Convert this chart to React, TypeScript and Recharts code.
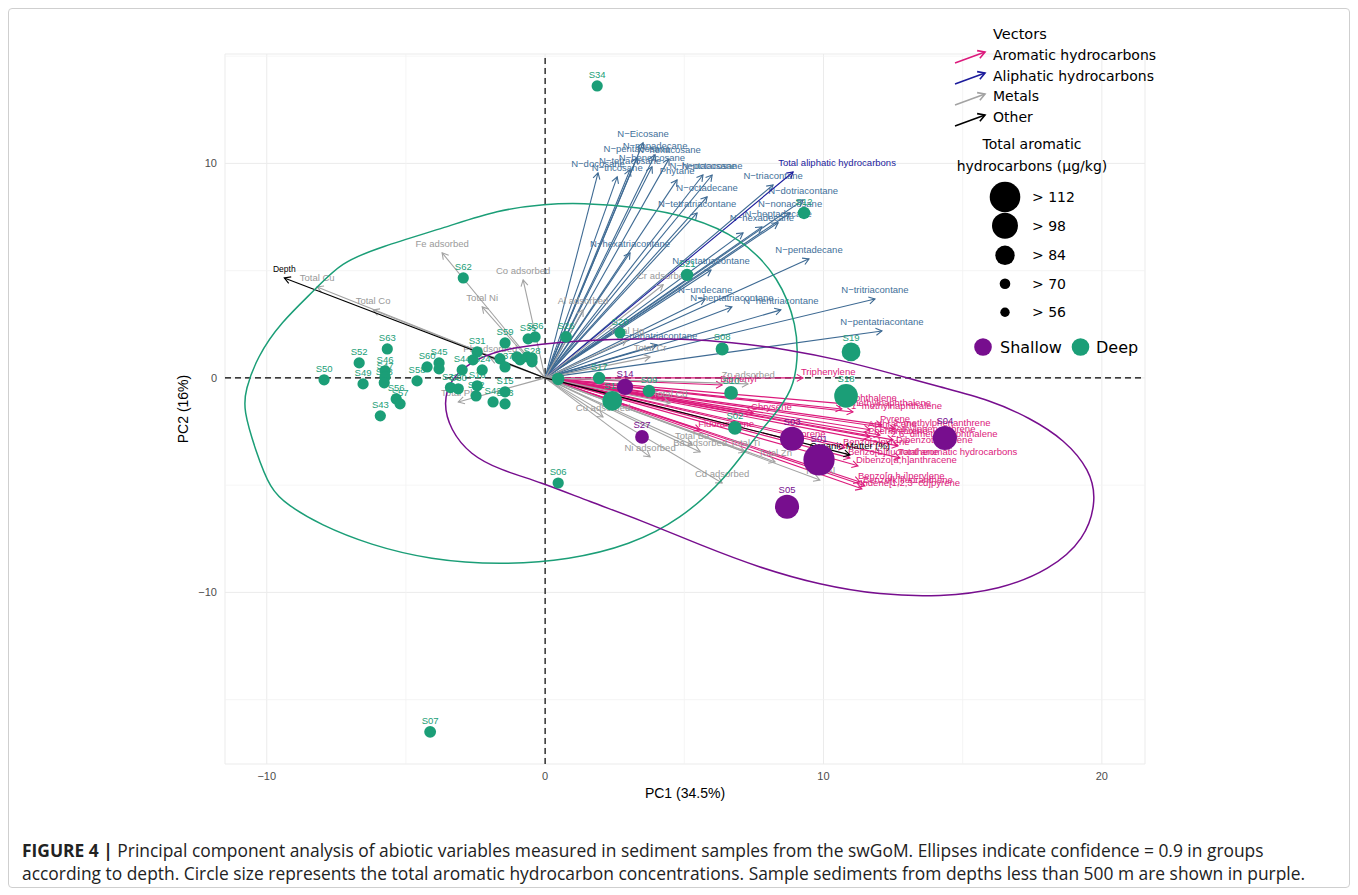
import React from "react";
import {
  ScatterChart,
  Scatter,
  XAxis,
  YAxis,
  CartesianGrid,
  ReferenceLine,
} from "recharts";

// ---- samples (PC scores) ----
const SAMPLE_NAMES = [
  "S34", "S12", "S21", "S20", "S26", "S08", "S19", "S18", "S10", "S09",
  "S17", "S11", "", "S02", "S06", "S07", "S62", "S63", "S52", "S46",
  "S47", "S48", "S49", "S50", "S56", "S57", "S43", "S58", "S60", "S45",
  "", "S44", "S32", "S30", "S31", "", "S59", "S35", "S36", "",
  "", "", "S28", "", "", "S37", "S24", "S16", "S22", "S42",
  "S15", "S13", "S14", "S27", "S05", "S03", "S01", "S04",
];
const SAMPLE_PC1 = [
  1.87, 9.3, 5.1, 2.69, 0.75, 6.36, 10.99, 10.81, 6.68, 3.73,
  1.94, 2.41, 0.47, 6.82, 0.47, -4.13, -2.94, -5.67, -6.68, -5.75,
  -5.75, -5.78, -6.54, -7.94, -5.35, -5.21, -5.92, -4.6, -4.24, -3.81,
  -3.81, -2.98, -3.4, -3.12, -2.44, -2.59, -1.44, -0.61, -0.36, -1.01,
  -0.9, -0.65, -0.47, -0.47, -1.62, -1.44, -2.26, -2.44, -2.48, -1.87,
  -1.44, -1.44, 2.87, 3.48, 8.69, 8.87, 9.84, 14.36,
];
const SAMPLE_PC2 = [
  13.61, 7.69, 4.8, 2.1, 1.91, 1.35, 1.21, -0.84, -0.7, -0.61,
  -0.01, -1.07, -0.05, -2.33, -4.9, -16.5, 4.66, 1.35, 0.7, 0.33,
  0.05, -0.23, -0.28, -0.09, -0.98, -1.21, -1.77, -0.14, 0.51, 0.7,
  0.42, 0.37, -0.45, -0.51, 1.21, 0.84, 1.63, 1.82, 1.91, 0.98,
  0.84, 0.98, 0.75, 0.93, 0.89, 0.51, 0.37, -0.37, -0.84, -1.12,
  -0.65, -1.21, -0.42, -2.75, -6.01, -2.84, -3.82, -2.8,
];
const SAMPLE_DEPTH = [
  "Deep", "Deep", "Deep", "Deep", "Deep", "Deep", "Deep", "Deep", "Deep", "Deep",
  "Deep", "Deep", "Deep", "Deep", "Deep", "Deep", "Deep", "Deep", "Deep", "Deep",
  "Deep", "Deep", "Deep", "Deep", "Deep", "Deep", "Deep", "Deep", "Deep", "Deep",
  "Deep", "Deep", "Deep", "Deep", "Deep", "Deep", "Deep", "Deep", "Deep", "Deep",
  "Deep", "Deep", "Deep", "Deep", "Deep", "Deep", "Deep", "Deep", "Deep", "Deep",
  "Deep", "Deep", "Shallow", "Shallow", "Shallow", "Shallow", "Shallow", "Shallow",
];
const SAMPLE_TAH = [
  71, 73, 73, 71, 72, 74, 83, 93, 75, 73,
  73, 85, 73, 75, 71, 72, 71, 71, 71, 71,
  71, 71, 71, 71, 71, 71, 71, 71, 71, 71,
  71, 71, 71, 71, 71, 71, 71, 71, 71, 71,
  71, 71, 71, 71, 71, 71, 71, 71, 71, 71,
  71, 71, 79, 75, 94, 94, 114, 94,
];

// ---- variable loadings (arrows) ----
const VECTOR_NAMES = [
  "Biphenyl", "Triphenylene", "Naphthalene", "2\u2212methylnaphthalene", "1\u2212methylnaphthalene",
  "Chrysene", "Pyrene", "2\u2212methylphenanthrene", "Anthracene", "1\u2212methylphenanthrene",
  "2,6\u2212dimethylnaphthalene", "Dibenzothiophene", "Total aromatic hydrocarbons", "Dibenzo[a,h]anthracene", "Benzo[g,h,i]perylene",
  "Benzo[k]fluoranthene", "Indene[1,2,3\u2212cd]pyrene", "Fluoranthene", "Benzo[b]fluoranthene", "Benzo[a]pyrene",
  "Phenanthrene", "Fluorene",
  "N\u2212docosane", "N\u2212tricosane", "N\u2212tetracosane", "N\u2212Eicosane", "N\u2212pentacosane",
  "N\u2212heneicosane", "N\u2212nonadecane", "N\u2212hexacosane", "Phytane", "N\u2212heptacosane",
  "N\u2212octacosane", "N\u2212triacontane", "N\u2212dotriacontane", "N\u2212octadecane", "N\u2212tetratriacontane",
  "N\u2212nonacosane", "N\u2212heptadecane", "N\u2212hexadecane", "", "N\u2212hexatriacontane",
  "N\u2212octatriacontane", "N\u2212pentadecane", "N\u2212undecane", "N\u2212heptatriacontane", "N\u2212hentriacontane",
  "N\u2212tritriacontane", "N\u2212pentatriacontane", "N\u2212nonatriacontane",
  "Total aliphatic hydrocarbons",
  "Total Cu", "Total Co", "Fe adsorbed", "Total Ni", "Co adsorbed",
  "Pb adsorbed", "Total Pb", "Al adsorbed", "Cr adsorbed", "Total Hg",
  "Total Cr", "Zn adsorbed", "Total Cd", "Cu adsorbed", "Ni adsorbed",
  "Total Ba", "Ba adsorbed", "Cd adsorbed", "Total Al", "Total Ti",
  "Total Zn",
  "Depth", "Organic Matter (%)",
];
const VECTOR_PC1 = [
  6.36, 9.26, 10.77, 10.66, 11.06, 7.47, 12.1, 12.57, 11.67, 12.03,
  12.5, 12.68, 12.75, 11.24, 11.31, 11.49, 11.38, 5.57, 10.95, 10.77,
  11.67, 8.8,
  1.9, 2.59, 3.05, 3.52, 3.3, 3.84, 3.95, 4.45, 4.74, 5.67,
  6.0, 8.19, 9.27, 5.82, 5.46, 8.8, 8.37, 7.79, 7.11, 3.05,
  5.96, 9.48, 5.75, 6.71, 8.47, 11.85, 12.1, 4.02,
  8.91,
  -8.19, -6.18, -3.7, -2.26, -0.79, -1.97, -3.12, 1.36, 4.24, 2.94,
  3.77, 7.29, 4.49, 2.08, 3.77, 5.28, 5.57, 6.36, 9.87, 7.18,
  8.26,
  -9.37, 10.95,
];
const VECTOR_PC2 = [
  -0.33, 0.0, -1.21, -1.45, -1.59, -1.63, -2.19, -2.38, -2.42, -2.66,
  -2.89, -3.17, -3.73, -4.1, -4.85, -5.03, -5.17, -2.42, -3.73, -3.26,
  -2.75, -2.89,
  9.56, 9.37, 9.7, 10.96, 10.26, 9.84, 10.4, 10.21, 9.23, 9.46,
  9.46, 9.0, 8.3, 8.44, 7.69, 7.69, 7.23, 7.04, 6.76, 5.83,
  5.03, 5.55, 3.68, 3.31, 3.17, 3.68, 2.19, 1.54,
  9.6,
  4.24, 3.17, 5.83, 3.31, 4.57, 0.93, -1.12, 3.17, 4.34, 1.77,
  0.98, -0.28, -1.17, -1.82, -3.68, -3.12, -3.45, -4.9, -4.76, -3.45,
  -3.92,
  4.66, -3.59,
];
const VECTOR_GROUP = [
  ...Array(22).fill("aromatic"),
  ...Array(28).fill("aliphatic"),
  "aliphaticTotal",
  ...Array(21).fill("metal"),
  "other", "other",
];

// ---- 0.9 confidence ellipses, traced ----
const DEEP_ELLIPSE_PC1 = [
  -10.84, -10.77, -10.34, -9.52, -8.19, -7.36, -5.92, -3.52, -1.72, 0.04,
  1.26, 3.41, 5.21, 7.0, 8.44, 9.05, 9.08, 8.9, 8.19, 7.54,
  6.54, 4.85, 3.05, 0.9, -1.62, -4.13, -6.28, -8.08, -9.26, -9.87,
  -10.41,
];
const DEEP_ELLIPSE_PC2 = [
  -1.49, -0.56, 0.98, 2.56, 4.2, 5.36, 6.11, 7.04, 7.83, 8.11,
  8.16, 7.97, 7.51, 6.57, 4.66, 2.38, 0.84, -0.56, -1.82, -2.75,
  -4.62, -6.62, -7.79, -8.48, -8.72, -8.48, -7.79, -6.85, -5.92, -5.22,
  -3.36,
];
const SHALLOW_ELLIPSE_PC1 = [
  -3.66, -3.41, -2.69, -1.62, -0.18, 1.62, 3.41, 5.57, 7.72, 9.87,
  12.03, 14.18, 16.34, 18.13, 19.39, 19.82, 19.57, 18.67, 17.41, 15.98,
  14.18, 12.39, 10.59, 8.8, 6.64, 4.85, 3.41, 1.62, -0.18, -1.62,
  -2.69, -3.41,
];
const SHALLOW_ELLIPSE_PC2 = [
  -1.17, -2.42, -3.59, -4.29, -4.85, -5.78, -6.62, -7.79, -8.86, -9.65,
  -10.12, -10.21, -9.88, -8.95, -7.55, -5.69, -4.29, -2.89, -1.86, -1.03,
  -0.42, 0.23, 0.84, 1.31, 1.68, 1.82, 1.82, 1.77, 1.59, 1.31,
  0.75, -0.09,
];

// ---- axes / legend values ----
const X_TICKS = [-10, 0, 10, 20];
const Y_TICKS = [-10, 0, 10];
const X_MINOR = [-5, 5, 15];
const Y_MINOR = [-15, -5, 5, 15];
const SIZE_BREAKS = [56, 70, 84, 98, 112];
const VECTOR_LEGEND = ["Aromatic hydrocarbons", "Aliphatic hydrocarbons", "Metals", "Other"];

// ---- styles ----
const DEEP = "#1b9e77";
const SHALLOW = "#770e8e";
const SIZE_RADII = [4.7, 5.3, 9.7, 13, 15.3];
const VECTOR_COLORS: Record<string, string> = {
  aromatic: "#dc1a7c",
  aliphatic: "#3e6a93",
  aliphaticTotal: "#1c1c9c",
  metal: "#a3a3a3",
  other: "#000000",
};
const LABEL_COLORS: Record<string, string> = {
  aromatic: "#dc1a7c",
  aliphatic: "#43709a",
  aliphaticTotal: "#1c1c9c",
  metal: "#9a9a9a",
  other: "#000000",
};
const LEGEND_ARROW_COLORS = ["#dc1a7c", "#1c1c9c", "#a3a3a3", "#000000"];

const radiusFor = (v: number) => {
  if (v <= SIZE_BREAKS[0]) return SIZE_RADII[0];
  for (let i = 1; i < SIZE_BREAKS.length; i++) {
    if (v <= SIZE_BREAKS[i]) {
      const t = (v - SIZE_BREAKS[i - 1]) / (SIZE_BREAKS[i] - SIZE_BREAKS[i - 1]);
      return SIZE_RADII[i - 1] + t * (SIZE_RADII[i] - SIZE_RADII[i - 1]);
    }
  }
  return SIZE_RADII[SIZE_RADII.length - 1] + (v - SIZE_BREAKS[SIZE_BREAKS.length - 1]) * 0.16;
};

const samples = SAMPLE_NAMES.map((name, i) => ({
  name,
  x: SAMPLE_PC1[i],
  y: SAMPLE_PC2[i],
  group: SAMPLE_DEPTH[i],
  tah: SAMPLE_TAH[i],
}));
const vectors = VECTOR_NAMES.map((name, i) => ({
  name,
  x: VECTOR_PC1[i],
  y: VECTOR_PC2[i],
  group: VECTOR_GROUP[i],
}));
const deepEllipse = DEEP_ELLIPSE_PC1.map((x, i) => ({ x, y: DEEP_ELLIPSE_PC2[i] }));
const shallowEllipse = SHALLOW_ELLIPSE_PC1.map((x, i) => ({ x, y: SHALLOW_ELLIPSE_PC2[i] }));

const minus = (v: number) => String(v).replace("-", "\u2212");

const SamplePoint = (props: any) => {
  const { cx, cy, payload } = props;
  const r = radiusFor(payload.tah);
  const color = payload.group === "Shallow" ? SHALLOW : DEEP;
  return (
    <g>
      <circle cx={cx} cy={cy} r={r} fill={color} />
      {payload.name ? (
        <text x={cx} y={cy - r - 2} textAnchor="middle" fontSize={9.5} fill={color}>
          {payload.name}
        </text>
      ) : null}
    </g>
  );
};

const arrowHead = (x1: number, y1: number, x2: number, y2: number, len: number) => {
  const ang = Math.atan2(y2 - y1, x2 - x1);
  const a = Math.PI / 6;
  const hx1 = x2 - len * Math.cos(ang - a);
  const hy1 = y2 - len * Math.sin(ang - a);
  const hx2 = x2 - len * Math.cos(ang + a);
  const hy2 = y2 - len * Math.sin(ang + a);
  return `${hx1},${hy1} ${x2},${y2} ${hx2},${hy2}`;
};

const makeArrow = (v: { name: string; group: string }) => (p: any) => {
  const { x1, y1, x2, y2 } = p;
  const color = VECTOR_COLORS[v.group];
  const aro = v.group === "aromatic";
  const tot = v.group === "aliphaticTotal";
  return (
    <g>
      <line x1={x1} y1={y1} x2={x2} y2={y2} stroke={color} strokeWidth={1.1} />
      <polyline points={arrowHead(x1, y1, x2, y2, 7)} fill="none" stroke={color} strokeWidth={1.1} />
      {v.name ? (
        <text
          x={aro ? x2 - 2 : tot ? x2 - 15 : x2}
          y={aro ? y2 - 3 : y2 - 6}
          textAnchor={aro || tot ? "start" : "middle"}
          fontSize={v.name === "Depth" ? 8.5 : 9.5}
          fill={LABEL_COLORS[v.group]}
        >
          {v.name}
        </text>
      ) : null}
    </g>
  );
};

const Legend = () => {
  const ox = -8;
  const oy = -8;
  return (
    <svg
      width={1342}
      height={820}
      style={{ position: "absolute", left: 0, top: 0, pointerEvents: "none" }}
      fontFamily="'DejaVu Sans', sans-serif"
    >
      <g transform={`translate(${ox},${oy})`}>
        <text x={993} y={39} fontSize={14.5} fill="#000">Vectors</text>
        {VECTOR_LEGEND.map((lab, i) => {
          const y = 63 + i * 21;
          const c = LEGEND_ARROW_COLORS[i];
          return (
            <g key={lab}>
              <line x1={955} y1={y} x2={985} y2={y - 11} stroke={c} strokeWidth={1.6} />
              <polyline points={arrowHead(955, y, 985, y - 11, 8)} fill="none" stroke={c} strokeWidth={1.6} />
              <text x={993} y={60 + i * 20.6} fontSize={14} fill="#000">{lab}</text>
            </g>
          );
        })}
        <text x={1032} y={149} fontSize={14} textAnchor="middle" fill="#000">Total aromatic</text>
        <text x={1032} y={171} fontSize={14} textAnchor="middle" fill="#000">{"hydrocarbons (\u03bcg/kg)"}</text>
        {[...SIZE_BREAKS].reverse().map((b, i) => {
          const cy = [197, 225.8, 255.3, 283.8, 312.3][i];
          return (
            <g key={b}>
              <circle cx={1005} cy={cy} r={radiusFor(b)} fill="#000" />
              <text x={1032} y={cy + 5} fontSize={14} fill="#000">{"> " + b}</text>
            </g>
          );
        })}
        <circle cx={983} cy={347} r={8.8} fill={SHALLOW} />
        <text x={1000} y={353} fontSize={16} fill="#000">Shallow</text>
        <circle cx={1080.5} cy={347} r={8.8} fill={DEEP} />
        <text x={1096} y={353} fontSize={16} fill="#000">Deep</text>
      </g>
    </svg>
  );
};

export default function App() {
  return (
    <div
      style={{
        position: "relative",
        width: 1342,
        height: 880,
        fontFamily: "'Liberation Sans', Arial, sans-serif",
        border: "1px solid #cfcfcf",
        borderRadius: 4,
        boxSizing: "border-box",
        background: "#fff",
      }}
    >
      <div style={{ position: "absolute", left: -1, top: -1 }}>
        <ScatterChart width={1342} height={820} margin={{ top: 46, right: 205, bottom: 6, left: 133 }}>
          <CartesianGrid stroke="#ebebeb" strokeWidth={1} />
          <XAxis
            type="number"
            dataKey="x"
            domain={[-11.5, 21.55]}
            allowDataOverflow
            ticks={X_TICKS}
            tickFormatter={minus}
            axisLine={false}
            tickLine={false}
            height={58}
            tick={{ fill: "#4d4d4d", fontSize: 11 }}
            label={{ value: "PC1 (34.5%)", position: "center", fill: "#000", fontSize: 14 }}
          />
          <YAxis
            type="number"
            dataKey="y"
            domain={[-18, 15.1]}
            allowDataOverflow
            ticks={Y_TICKS}
            tickFormatter={minus}
            axisLine={false}
            tickLine={false}
            width={84}
            tick={{ fill: "#4d4d4d", fontSize: 11 }}
            label={{ value: "PC2 (16%)", position: "center", angle: -90, fill: "#000", fontSize: 14 }}
          />
          {X_MINOR.map((v) => (
            <ReferenceLine key={"xm" + v} x={v} stroke="#f3f3f3" strokeWidth={0.8} />
          ))}
          {Y_MINOR.map((v) => (
            <ReferenceLine key={"ym" + v} y={v} stroke="#f3f3f3" strokeWidth={0.8} />
          ))}
          <ReferenceLine x={0} stroke="#000" strokeWidth={1.2} strokeDasharray="6 4" />
          <ReferenceLine y={0} stroke="#000" strokeWidth={1.2} strokeDasharray="6 4" />
          <Scatter
            data={deepEllipse}
            line={{ stroke: DEEP, strokeWidth: 1.5 }}
            lineType="joint"
            lineJointType="basisClosed"
            shape={() => <g />}
            isAnimationActive={false}
          />
          <Scatter
            data={shallowEllipse}
            line={{ stroke: SHALLOW, strokeWidth: 1.5 }}
            lineType="joint"
            lineJointType="basisClosed"
            shape={() => <g />}
            isAnimationActive={false}
          />
          <Scatter data={samples} shape={SamplePoint} isAnimationActive={false} />
          {vectors.map((v, i) => (
            <ReferenceLine
              key={"v" + i}
              segment={[{ x: 0, y: 0 }, { x: v.x, y: v.y }]}
              ifOverflow="visible"
              shape={makeArrow(v)}
            />
          ))}
        </ScatterChart>
        <Legend />
      </div>
      <div
        style={{
          position: "absolute",
          left: 13,
          top: 830,
          width: 1330,
          fontFamily: "'Open Sans', 'Liberation Sans', sans-serif",
          fontSize: 17.4,
          lineHeight: "23px",
          color: "#222",
          whiteSpace: "nowrap",
        }}
      >
        <b>FIGURE 4 |</b> Principal component analysis of abiotic variables measured in sediment samples from the swGoM.
        Ellipses indicate confidence = 0.9 in groups
        <br />
        according to depth. Circle size represents the total aromatic hydrocarbon concentrations. Sample sediments from
        depths less than 500 m are shown in purple.
      </div>
    </div>
  );
}
